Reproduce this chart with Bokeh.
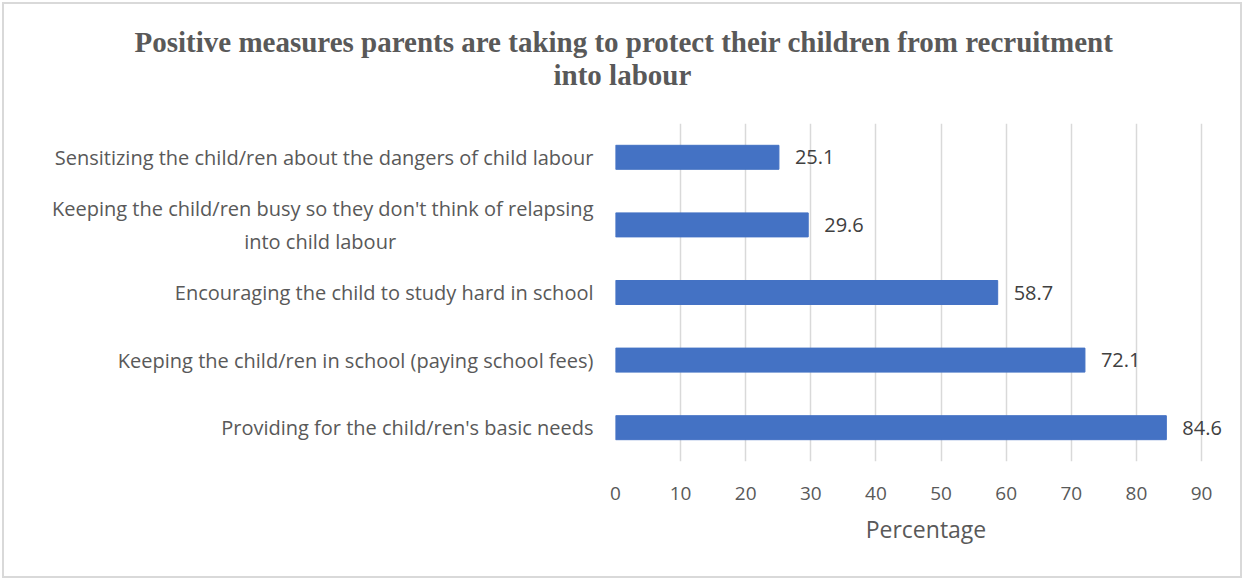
from bokeh.plotting import figure
from bokeh.models import ColumnDataSource, LabelSet, Range1d, FixedTicker, Title
from bokeh.core.properties import value
from bokeh.embed import file_html
from bokeh.resources import INLINE

title_lines = ["Positive measures parents are taking to protect their children from recruitment",
               "into labour"]
categories = [
    "Sensitizing the child/ren about the dangers of child labour",
    "Keeping the child/ren busy so they don't think of relapsing\ninto child labour",
    "Encouraging the child to study hard in school",
    "Keeping the child/ren in school (paying school fees)",
    "Providing for the child/ren's basic needs",
]
values = [25.1, 29.6, 58.7, 72.1, 84.6]
x_ticks = [0, 10, 20, 30, 40, 50, 60, 70, 80, 90]
x_label = "Percentage"

n = len(categories)
ypos = [n - 1 - i for i in range(n)]  # top-to-bottom order
src = ColumnDataSource(dict(y=ypos, v=values, lab=[f"{v:.1f}" for v in values]))

FONT = "Open Sans"
PX = (1197 - 611) / 90.0
p = figure(width=1236, height=572, output_backend="svg", toolbar_location=None,
           x_range=Range1d(0, (1232 - 611) / PX), y_range=Range1d(-0.5, n - 0.5),
           min_border_left=611, min_border_right=4, min_border_top=119, min_border_bottom=115)
p.margin = (4, 0, 0, 4)
p.styles = {"outline": "2px solid #D9D9D9", "outline-offset": "0px"}
p.outline_line_color = None
p.background_fill_color = "white"
p.border_fill_color = "white"
p.title.text = ""
p.title.text_font_size = "0px"
p.title.standoff = 0

p.hbar(y="y", right="v", left=0, height=0.355, source=src, fill_color="#4472C4", line_color="#4472C4")

p.ygrid.grid_line_color = None
p.xgrid.grid_line_color = "#D9D9D9"
p.xgrid.grid_line_width = 1.5
p.xaxis.ticker = FixedTicker(ticks=x_ticks)
p.xgrid.ticker = FixedTicker(ticks=x_ticks)

xa = p.xaxis[0]
xa.axis_line_color = None
xa.major_tick_line_color = None
xa.minor_tick_line_color = None
xa.major_label_text_font = FONT
xa.major_label_text_font_size = "19px"
xa.major_label_text_color = "#595959"
xa.major_label_standoff = 19
xa.axis_label = x_label
xa.axis_label_text_font = FONT
xa.axis_label_text_font_size = "23px"
xa.axis_label_text_font_style = "normal"
xa.axis_label_text_color = "#595959"
xa.axis_label_standoff = 10

# multi-line labels: centre later lines under the first one
def centred(label, n_pad=38):
    lines = label.split("\n")
    return "\n".join([lines[0]] + [ln + "\u00a0" * n_pad for ln in lines[1:]])

ya = p.yaxis[0]
ya.ticker = FixedTicker(ticks=ypos)
ya.major_label_overrides = {y: centred(c) for y, c in zip(ypos, categories)}
ya.axis_line_color = None
ya.major_tick_line_color = None
ya.minor_tick_line_color = None
ya.major_tick_out = 0
ya.major_label_text_font = FONT
ya.major_label_text_font_size = "20px"
ya.major_label_text_color = "#595959"
ya.major_label_standoff = 22

p.add_layout(LabelSet(x="v", y="y", text="lab", source=src, x_offset=16, text_baseline="middle",
                      text_font=value(FONT), text_font_size="20px", text_color="#404040"))

t2 = Title(text=title_lines[1], align="left", offset=-62, standoff=66,
           text_font="Liberation Serif", text_font_style="bold", text_font_size="29px", text_color="#595959")
p.add_layout(t2, "above")
t1 = Title(text=title_lines[0], align="left", offset=-481, standoff=-68,
           text_font="Liberation Serif", text_font_style="bold", text_font_size="29px", text_color="#595959")
p.add_layout(t1, "above")

open("out.html", "w").write(file_html(p, INLINE))
